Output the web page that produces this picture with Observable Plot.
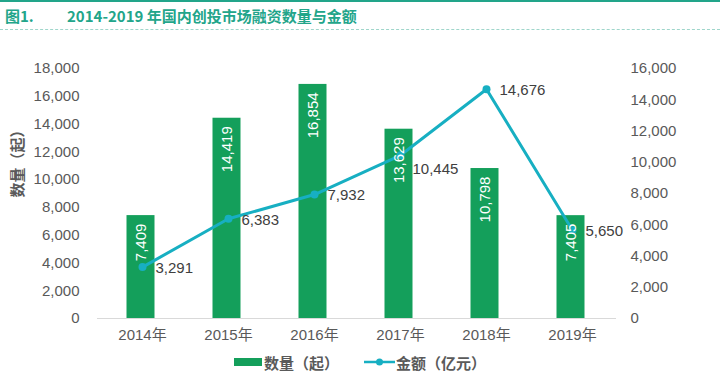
<!DOCTYPE html>
<html><head><meta charset="utf-8">
<script src="https://cdn.jsdelivr.net/npm/d3@7"></script>
<script src="https://cdn.jsdelivr.net/npm/@observablehq/plot@0.6"></script>
<style>
body{margin:0;background:#fff;font-family:"Liberation Sans","Noto Sans CJK SC",sans-serif;}
#wrap{width:720px;height:375px;position:relative;overflow:hidden;background:#fff}
#title{position:absolute;left:0;top:0;width:720px;height:30px;border-top:2px solid #22a58a;border-bottom:1px dashed #9fd6cb;box-sizing:border-box;color:#22a58a;font-weight:bold;font-size:15px;font-family:"Noto Sans CJK SC",sans-serif;}
#title span{position:absolute;top:4px;line-height:20px}
#chart{position:absolute;left:0;top:30px}
#legend{position:absolute;left:0;top:352px;width:720px;height:20px;display:flex;justify-content:center;align-items:center;font-size:15px;font-weight:bold;color:#5a5a5a;font-family:"Noto Sans CJK SC",sans-serif;}
#legend .item{display:flex;align-items:center}
</style></head>
<body><div id="wrap">
<div id="title"><span style="left:5px">图1.</span><span style="left:67px">2014-2019 年国内创投市场融资数量与金额</span></div>
<div id="chart"></div>
<div id="legend">
  <div class="item"><svg width="28" height="8"><rect width="28" height="8" fill="#149f5b"/></svg><span style="margin-left:2px">数量（起）</span></div>
  <div class="item" style="margin-left:25px"><svg width="31" height="10"><line x1="0" x2="31" y1="5" y2="5" stroke="#17afc2" stroke-width="2.5"/><circle cx="15.5" cy="5" r="3.5" fill="#17afc2"/></svg><span style="margin-left:1px">金额（亿元）</span></div>
</div>
</div>
<script>
const years = ["2014年","2015年","2016年","2017年","2018年","2019年"];
const counts = [7409, 14419, 16854, 13629, 10798, 7405];
const amounts = [3291, 6383, 7932, 10445, 14676, 5650];
const leftTicks = [0,2000,4000,6000,8000,10000,12000,14000,16000,18000];
const rightTicks = [0,2000,4000,6000,8000,10000,12000,14000,16000];

const leftMax = 18000, rightMax = 16000;
const k = leftMax / rightMax;
const fmt = d3.format(",");
const data = years.map((y, i) => ({year: y, count: counts[i], amount: amounts[i], amountY: amounts[i] * k}));

const barColor = "#149f5b", lineColor = "#17afc2";

const chart = Plot.plot({
  width: 720,
  height: 315,
  marginLeft: 97,
  marginRight: 104,
  marginTop: 38,
  marginBottom: 27,
  style: {fontSize: "15px", fontFamily: '"Liberation Sans","Noto Sans CJK SC",sans-serif', color: "#595959", background: "transparent"},
  x: {domain: years, paddingInner: 0.68, paddingOuter: 0.34, axis: null},
  y: {domain: [0, leftMax], axis: null},
  marks: [
    Plot.barY(data, {x: "year", y: "count", fill: barColor, dx: -1.5}),
    Plot.ruleY([0], {stroke: "#d9d9d9", strokeWidth: 1}),
    Plot.axisX({tickSize: 0, tickPadding: 11, label: null, fontSize: 15}),
    Plot.axisY({ticks: leftTicks, anchor: "left", tickSize: 0, tickPadding: 18, tickFormat: fmt, label: null}),
    Plot.axisY({ticks: rightTicks.map(v => v * k), anchor: "right", tickSize: 0, tickPadding: 14, tickFormat: d => fmt(Math.round(d / k)), label: null}),
    Plot.text(["数量（起）"], {frameAnchor: "left", rotate: -90, dx: -79, dy: 4, fill: "#5a5a5a", fontSize: 15, fontWeight: "bold", fontFamily: '"Noto Sans CJK SC",sans-serif'}),
    Plot.line(data, {x: "year", y: "amountY", stroke: lineColor, strokeWidth: 3}),
    Plot.dot(data, {x: "year", y: "amountY", r: 4, fill: lineColor}),
    Plot.text(data, {x: "year", y: "count", text: d => fmt(d.count), rotate: -90, textAnchor: "end", lineAnchor: "middle", dy: 8, dx: -1.5, fill: "white", fontSize: 15}),
    Plot.text(data.filter(d => d.year !== "2017年"), {x: "year", y: "amountY", text: d => fmt(d.amount), textAnchor: "start", dx: 13, dy: 1, fill: "#404040", fontSize: 15}),
    Plot.text(data.filter(d => d.year === "2017年"), {x: "year", y: "amountY", text: d => fmt(d.amount), textAnchor: "start", dx: 12, dy: 14, fill: "#404040", fontSize: 15})
  ]
});
document.getElementById("chart").appendChild(chart);
</script>
</body></html>
